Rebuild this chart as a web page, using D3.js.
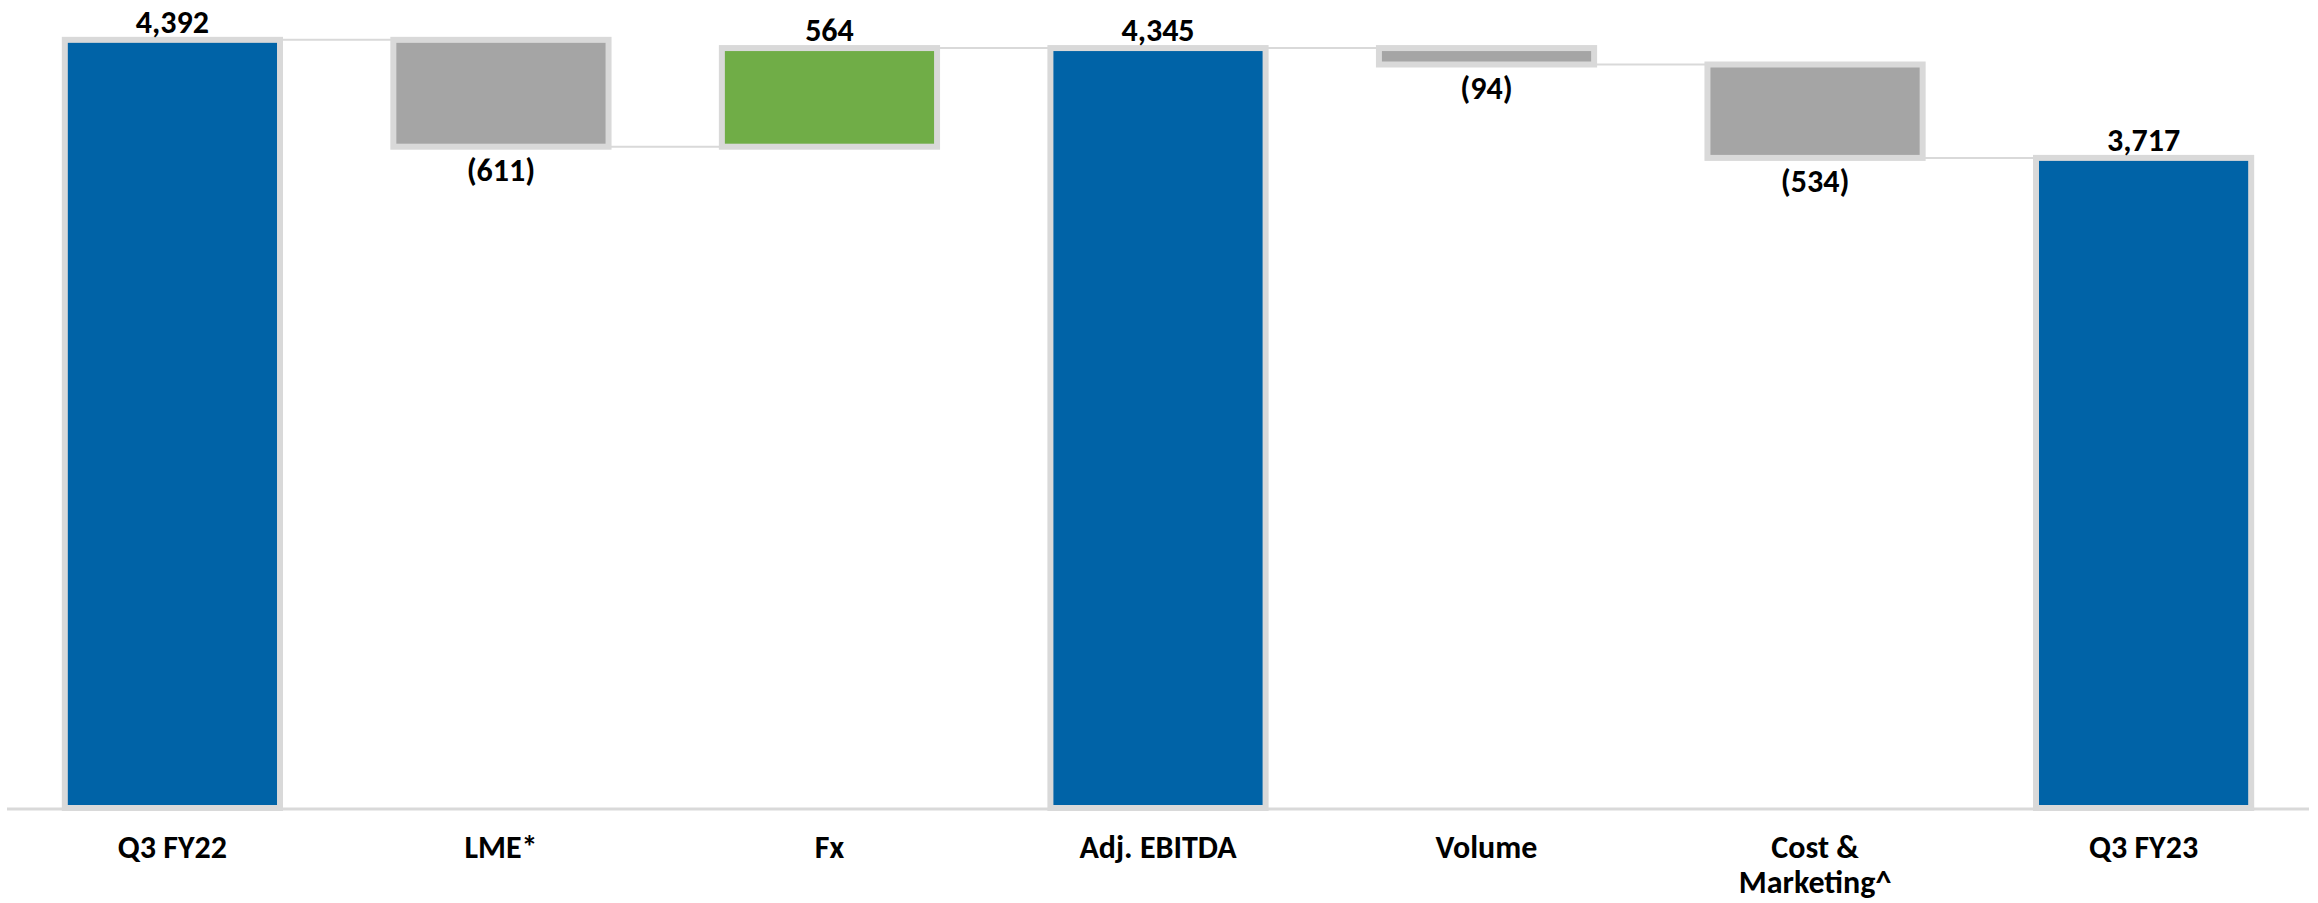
<!DOCTYPE html>
<html>
<head>
<meta charset="utf-8">
<script src="https://cdn.jsdelivr.net/npm/d3@7"></script>
<style>
  html, body { margin: 0; padding: 0; background: #ffffff; }
  svg { display: block; }
  text { font-family: Carlito, "Liberation Sans Narrow", "Liberation Sans", "Open Sans", sans-serif; font-weight: bold; fill: #000; }
</style>
</head>
<body>
<svg id="chart" width="2318" height="903"></svg>
<script>
// ---- data ----
const categories = ["Q3 FY22", "LME*", "Fx", "Adj. EBITDA", "Volume", "Cost & Marketing^", "Q3 FY23"];
const categoryLines = [["Q3 FY22"], ["LME*"], ["Fx"], ["Adj. EBITDA"], ["Volume"], ["Cost &", "Marketing^"], ["Q3 FY23"]];
const values = [4392, -611, 564, 4345, -94, -534, 3717];
const kinds = ["total", "delta", "delta", "total", "delta", "delta", "total"];
const valueLabels = ["4,392", "(611)", "564", "4,345", "(94)", "(534)", "3,717"];

// ---- build waterfall segments ----
let running = 0;
const bars = categories.map((c, i) => {
  let y0, y1;
  if (kinds[i] === "total") { y0 = 0; y1 = values[i]; running = values[i]; }
  else { y0 = running; y1 = running + values[i]; running = y1; }
  return { cat: c, lines: categoryLines[i], v: values[i], kind: kinds[i], lo: Math.min(y0, y1), hi: Math.max(y0, y1), end: y1, label: valueLabels[i] };
});

const svg = d3.select("#chart");
const baseY = 808;
const k = 0.1749;
const x = d3.scaleBand().domain(categories).range([7, 2309]).paddingInner(0.345).paddingOuter(0.176);
const y = d3.scaleLinear().domain([0, 4500]).range([baseY, baseY - 4500 * k]);

const colorOf = d => d.kind === "total" ? "#0063a7" : (d.v >= 0 ? "#70ad47" : "#a5a5a5");

// connectors
const conn = [];
for (let i = 0; i < bars.length - 1; i++) {
  conn.push({ x1: x(bars[i].cat) + x.bandwidth(), x2: x(bars[i + 1].cat), yv: bars[i].end });
}
svg.append("g").selectAll("line").data(conn).join("line")
  .attr("x1", d => d.x1).attr("x2", d => d.x2)
  .attr("y1", d => y(d.yv)).attr("y2", d => y(d.yv))
  .attr("stroke", "#d9d9d9").attr("stroke-width", 2);

// axis baseline
svg.append("line").attr("x1", 7).attr("x2", 2309).attr("y1", baseY + 1).attr("y2", baseY + 1)
  .attr("stroke", "#d9d9d9").attr("stroke-width", 3);

// bars
svg.append("g").selectAll("rect").data(bars).join("rect")
  .attr("x", d => x(d.cat))
  .attr("width", x.bandwidth())
  .attr("y", d => y(d.hi))
  .attr("height", d => y(d.lo) - y(d.hi))
  .attr("fill", colorOf)
  .attr("stroke", "#d9d9d9")
  .attr("stroke-width", 6);

// value labels
svg.append("g").selectAll("text").data(bars).join("text")
  .attr("x", d => x(d.cat) + x.bandwidth() / 2)
  .attr("y", d => d.v >= 0 ? y(d.hi) - 7 : y(d.lo) + 34)
  .attr("text-anchor", "middle")
  .attr("font-size", 32)
  .text(d => d.label);

// category labels
const cg = svg.append("g").selectAll("text").data(bars).join("text")
  .attr("x", d => x(d.cat) + x.bandwidth() / 2)
  .attr("y", 858)
  .attr("text-anchor", "middle")
  .attr("font-size", 32);
cg.selectAll("tspan").data(d => d.lines.map(l => ({ l, cx: x(d.cat) + x.bandwidth() / 2 }))).join("tspan")
  .attr("x", d => d.cx)
  .attr("dy", (d, i) => i === 0 ? 0 : 35)
  .text(d => d.l);
</script>
</body>
</html>
